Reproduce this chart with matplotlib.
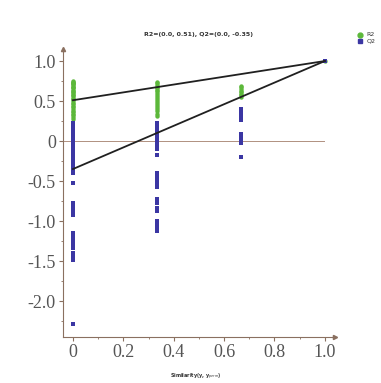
import matplotlib.pyplot as plt
from matplotlib.ticker import MultipleLocator

plt.rcParams['font.family'] = ['Liberation Serif', 'DejaVu Serif']

# permutation test results: similarity of permuted y vs original y
x_levels = [0.0, 0.333, 0.667, 1.0]

r2_vals = [
    [0.75, 0.74, 0.73, 0.72, 0.71, 0.70, 0.68, 0.67, 0.66, 0.64, 0.63, 0.61, 0.60,
     0.58, 0.57, 0.55, 0.53, 0.52, 0.50, 0.48, 0.46, 0.44, 0.42, 0.40, 0.38, 0.36,
     0.34, 0.32, 0.30, 0.28],
    [0.74, 0.72, 0.70, 0.68, 0.66, 0.64, 0.62, 0.60, 0.57, 0.55, 0.52, 0.50, 0.47,
     0.45, 0.42, 0.40, 0.37, 0.34, 0.31],
    [0.69, 0.67, 0.65, 0.63, 0.61, 0.59, 0.57, 0.55],
    [1.0],
]

q2_vals = [
    [0.22, 0.20, 0.18, 0.16, 0.14, 0.12, 0.10, 0.08, 0.06, 0.04, 0.02, 0.0, -0.02,
     -0.04, -0.06, -0.08, -0.10, -0.12, -0.14, -0.16, -0.18, -0.20, -0.22, -0.24,
     -0.26, -0.28, -0.30, -0.32, -0.34, -0.36, -0.38, -0.40, -0.53, -0.78, -0.81,
     -0.84, -0.87, -0.90, -0.93, -1.15, -1.18, -1.21, -1.26, -1.30, -1.34, -1.40,
     -1.43, -1.46, -1.49, -2.29],
    [0.23, 0.20, 0.17, 0.14, 0.11, 0.08, 0.05, 0.02, -0.01, -0.04, -0.07, -0.10,
     -0.18, -0.40, -0.43, -0.46, -0.49, -0.52, -0.55, -0.58, -0.72, -0.78, -0.84,
     -0.88, -1.00, -1.03, -1.06, -1.09, -1.12],
    [0.40, 0.37, 0.34, 0.30, 0.26, 0.09, 0.06, 0.03, 0.0, -0.03, -0.20],
    [1.0],
]

r2_intercept = 0.51
q2_intercept = -0.35

green = '#5cb83a'
blue = '#3b36a3'
axis_col = '#8a7060'
text_col = '#555555'

fig = plt.figure(figsize=(3.81, 3.83), dpi=100)
ax = fig.add_axes([0.165, 0.12, 0.714, 0.752])

for xv, ys in zip(x_levels, r2_vals):
    ax.scatter([xv] * len(ys), ys, s=10, marker='o', color=green, zorder=3, linewidths=0)
for xv, ys in zip(x_levels, q2_vals):
    ax.scatter([xv] * len(ys), ys, s=10, marker='s', color=blue, zorder=3, linewidths=0)

# regression lines through the permuted points
ax.plot([0, 1], [r2_intercept, 1.0], color='#202020', lw=1.3, zorder=4)
ax.plot([0, 1], [q2_intercept, 1.0], color='#202020', lw=1.3, zorder=4)
ax.axhline(0, color='#b09080', lw=0.7, xmax=0.96, zorder=1)

ax.set_xlim(-0.04, 1.04)
ax.set_ylim(-2.45, 1.15)

for side in ['top', 'right']:
    ax.spines[side].set_visible(False)
for side in ['left', 'bottom']:
    ax.spines[side].set_color(axis_col)
    ax.spines[side].set_linewidth(0.8)

# arrow heads on the axes
ax.plot(1, 0, '>', color=axis_col, ms=3, transform=ax.transAxes, clip_on=False)
ax.plot(0, 1, '^', color=axis_col, ms=3, transform=ax.transAxes, clip_on=False)

ax.set_xticks([0, 0.2, 0.4, 0.6, 0.8, 1.0])
ax.set_xticklabels(['0', '0.2', '0.4', '0.6', '0.8', '1.0'])
ax.set_yticks([1.0, 0.5, 0, -0.5, -1.0, -1.5, -2.0])
ax.set_yticklabels(['1.0', '0.5', '0', '-0.5', '-1.0', '-1.5', '-2.0'])
ax.xaxis.set_minor_locator(MultipleLocator(0.1))
ax.yaxis.set_minor_locator(MultipleLocator(0.25))
ax.tick_params(which='major', length=3, color=axis_col, labelsize=13,
               labelcolor=text_col, pad=2)
ax.tick_params(which='minor', length=1.5, color=axis_col)

fig.text(0.52, 0.909, 'R2=(0.0, 0.51), Q2=(0.0, -0.35)', ha='center', va='center',
         fontsize=4.5, fontweight='bold', family='DejaVu Sans', color='#333333')
fig.text(0.515, 0.016, 'Similarity(y, y$_{perm}$)', ha='center', va='center',
         fontsize=3.5, fontweight='bold', family='DejaVu Sans', color='#333333')

# small legend in the top right corner
lx, ly = 0.945, 0.909
fig.add_artist(plt.Line2D([lx], [ly], marker='o', color=green, ms=3.5, lw=0,
                          transform=fig.transFigure))
fig.add_artist(plt.Line2D([lx], [ly - 0.017], marker='s', color=blue, ms=3, lw=0,
                          transform=fig.transFigure))
fig.text(lx + 0.016, ly, 'R2', fontsize=4.5, va='center', family='DejaVu Sans',
         color='#333333')
fig.text(lx + 0.016, ly - 0.017, 'Q2', fontsize=4.5, va='center', family='DejaVu Sans',
         color='#333333')

fig.savefig('out.png', dpi=100)
